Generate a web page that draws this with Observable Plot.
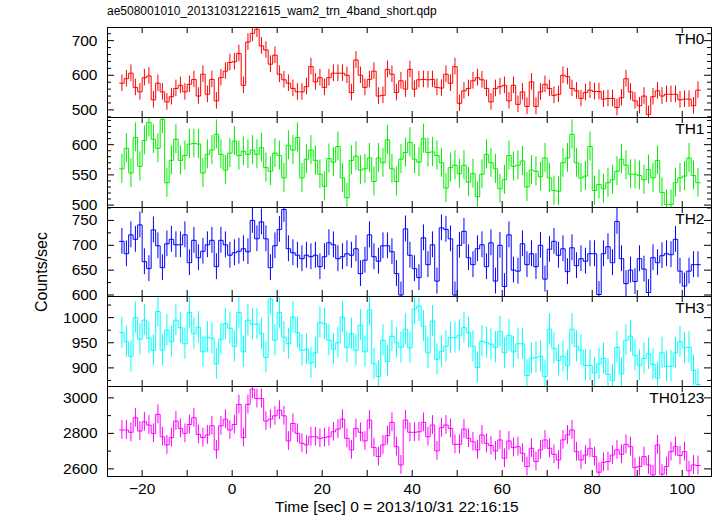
<!DOCTYPE html>
<html><head><meta charset="utf-8">
<script src="https://cdn.jsdelivr.net/npm/d3@7"></script>
<script src="https://cdn.jsdelivr.net/npm/@observablehq/plot@0.6"></script>
<style>
body{margin:0;background:#fff;}
#wrap{position:relative;width:717px;height:516px;font-family:"Liberation Sans",Arial,Helvetica,sans-serif;color:#000;overflow:hidden;background:#fff}
.txt{position:absolute;white-space:nowrap;line-height:1}
#wrap svg{position:absolute;left:0;overflow:visible}
</style></head><body>
<div id="wrap">
<div class="txt" id="title" style="left:107px;top:5px;font-size:12px">ae508001010_20131031221615_wam2_trn_4band_short.qdp</div>
<div class="txt" id="ylab" style="left:42px;top:272px;font-size:16px;transform:translate(-50%,-50%) rotate(-90deg)">Counts/sec</div>
<div class="txt" id="xlab" style="left:275px;top:499px;font-size:15.5px">Time [sec] 0 = 2013/10/31 22:16:15</div>
</div>
<script>
// ---- data (counts/sec per 1 s bin, starting at t = -25 s) ----
const tStart = -25, binSize = 1;
const panelNames = ["TH0","TH1","TH2","TH3","TH0123"];
const panelColors = ["#ff0000","#00ee00","#0000ff","#00ffff","#ff00ff"];
const th0 = [577,590,606,565,552,593,598,529,577,552,
523,538,562,571,552,574,588,540,603,545,
588,526,593,612,637,639,663,571,696,721,
733,685,673,632,658,603,587,577,562,552,
552,567,625,581,593,565,593,606,606,606,
600,550,644,600,565,588,612,540,542,617,
603,550,584,560,617,560,587,588,587,588,
565,563,603,577,625,519,555,562,584,593,
587,562,523,562,567,571,526,571,516,552,
510,581,510,552,574,562,542,545,600,596,
562,555,533,550,557,553,553,531,533,533,
507,535,590,552,526,512,540,487,538,555,
540,545,545,545,529,531,531,512,557];
const th1 = [560,594,553,612,564,607,637,609,594,642,
537,574,609,574,582,601,602,601,553,584,
591,617,584,558,586,606,582,589,584,591,
584,595,562,556,586,582,545,599,591,612,
545,576,591,574,551,531,577,571,597,545,
512,574,581,558,560,578,539,578,570,608,
560,539,576,587,604,576,571,610,587,588,
582,570,528,562,566,552,566,538,552,514,
551,584,570,560,527,542,582,564,566,573,
530,558,556,547,578,545,524,523,570,578,
617,570,545,548,597,524,534,527,537,542,
556,576,566,551,551,549,542,559,545,574,
521,501,501,537,545,548,578,549,537];
const th2 = [708,683,721,712,741,667,653,731,699,655,
703,712,701,701,721,665,710,675,688,701,
710,657,710,701,680,685,688,693,687,750,
713,747,713,655,699,732,772,
693,685,680,673,680,677,680,657,677,705,
701,673,677,683,680,693,643,670,721,677,
668,699,699,687,643,600,733,680,653,635,
715,661,701,628,735,732,713,600,700,728,
675,661,693,701,657,705,628,700,617,
721,650,648,703,661,683,657,700,632,692,
708,680,693,647,695,659,673,668,683,683,
601,683,697,665,748,673,623,650,627,673,
652,605,675,665,679,683,681,712,648,618,
648,661,661];
const th3 = [970,952,923,1000,957,995,959,935,1012,935,
975,952,995,980,948,1010,968,981,932,961,
959,908,957,988,979,943,1010,932,995,987,
987,968,921,1037,955,1010,961,948,1001,970,
935,937,910,930,990,988,955,937,950,1001,
941,968,935,985,932,1015,908,883,955,913,
963,950,941,977,940,1017,1023,983,930,993,
917,933,943,960,960,965,980,970,943,901,
953,950,947,941,972,930,965,932,948,948,
885,919,921,923,883,977,939,915,923,905,
977,943,935,905,905,890,908,919,887,875,
941,888,955,963,925,905,919,928,907,880,
930,903,903,930,952,940,941,895,867];
const th0123 = [2819,2819,2806,2888,2813,2865,2847,2800,2907,2781,
2735,2776,2869,2828,2800,2850,2888,2794,2776,2791,
2843,2707,2843,2880,2819,2850,2963,2776,2963,3049,
2996,2996,2869,2880,2899,2931,2899,2757,2856,2800,
2744,2735,2781,2781,2772,2776,2781,2809,2824,2880,
2772,2707,2828,2806,2757,2875,2720,2669,2735,2787,
2862,2725,2622,2875,2806,2806,2809,2862,2781,2847,
2701,2832,2847,2828,2738,2738,2824,2772,2753,2707,
2791,2744,2731,2701,2763,2660,2757,2720,2725,2688,
2613,2716,2641,2707,2763,2716,2682,2650,2763,2791,
2819,2697,2650,2678,2716,2669,2581,2637,2641,2678,
2707,2682,2738,2725,2607,2613,2669,2622,2566,2735,
2570,2613,2697,2725,2675,2697,2589,2622,2619];
const series = [th0, th1, th2, th3, th0123];
const errHalf = [24, 24, 26, 31, 53];            // typical 1-sigma error per panel
const yDomains = [[478,738],[496,645],[597,776],[863,1042],[2557,3064]];
const yLabelTicks = [[500,600,700],[500,550,600],[600,650,700,750],[900,950,1000],[2600,2800,3000]];
const yMinorStep = [20,10,25,25,100];
const xDomain = [-27.7,106.5];
const xLabelTicks = [-20,0,20,40,60,80,100];
const xTickStep = 10;

// ---- layout ----
const W = 717, ML = 107, MR = 6;
const panelEdges = [27,117,207,296,386,476];
const innerW = W - ML - MR;
const fontFam = '"Liberation Sans",Arial,Helvetica,sans-serif';
const minusFmt = d => d < 0 ? "\u2212" + (-d) : String(d);

const wrap = document.getElementById("wrap");
series.forEach((vals, i) => {
  const top = panelEdges[i], bottom = panelEdges[i+1], h = bottom - top;
  const last = i === series.length - 1;
  const mt = 4, mb = last ? 40 : 4;
  const bins = vals.map((v, k) => ({t0: tStart + k*binSize, t1: tStart + (k+1)*binSize, t: tStart + (k+0.5)*binSize, v}));
  const steps = bins.flatMap(b => [{x: b.t0, y: b.v}, {x: b.t1, y: b.v}]);
  const [y0, y1] = yDomains[i];
  const minor = d3.range(Math.ceil(y0 / yMinorStep[i]) * yMinorStep[i], y1 + 1e-9, yMinorStep[i]).filter(v => !yLabelTicks[i].includes(v));
  const xt = d3.range(Math.ceil(xDomain[0] / xTickStep) * xTickStep, xDomain[1] + 1e-9, xTickStep);
  const col = panelColors[i], e = errHalf[i];
  const majLen = 7, minLen = 4, xLen = 6;
  const marks = [
    Plot.line(steps, {x: "x", y: "y", stroke: col, strokeWidth: 1, clip: true}),
    Plot.ruleX(bins, {x: "t", y1: d => d.v - e, y2: d => d.v + e, stroke: col, strokeWidth: 1, clip: true}),
    // y ticks left/right
    Plot.tickY(yLabelTicks[i], {y: d => d, insetRight: innerW - majLen, stroke: "#000"}),
    Plot.tickY(yLabelTicks[i], {y: d => d, insetLeft: innerW - majLen, stroke: "#000"}),
    Plot.tickY(minor, {y: d => d, insetRight: innerW - minLen, stroke: "#000"}),
    Plot.tickY(minor, {y: d => d, insetLeft: innerW - minLen, stroke: "#000"}),
    // x ticks top/bottom
    Plot.tickX(xt, {x: d => d, insetBottom: h - xLen, stroke: "#000"}),
    Plot.tickX(xt, {x: d => d, insetTop: h - xLen, stroke: "#000"}),
    Plot.axisY({ticks: yLabelTicks[i], tickSize: 0, tickPadding: 10, fontSize: 15.5, tickFormat: d => String(d), label: null}),
    Plot.text([panelNames[i]], {frameAnchor: "top-right", dx: -7, dy: 5.5, lineAnchor: "top", textAnchor: "end", fontSize: 15.5, fill: "#000"}),
    Plot.frame({stroke: "#000", strokeWidth: 1})
  ];
  if (last) marks.push(Plot.axisX({ticks: xLabelTicks, tickSize: 0, tickPadding: 6, fontSize: 15.5, tickFormat: minusFmt, label: null}));
  const svg = Plot.plot({
    width: W, height: h + mt + mb,
    marginLeft: ML, marginRight: MR, marginTop: mt, marginBottom: mb,
    x: {domain: xDomain, label: null, axis: last ? undefined : null},
    y: {domain: yDomains[i], label: null},
    style: {fontFamily: fontFam, fontSize: "15.5px", background: "transparent", color: "#000"},
    marks
  });
  svg.style.top = (top - mt) + "px";
  wrap.appendChild(svg);
});
</script>
</body></html>
